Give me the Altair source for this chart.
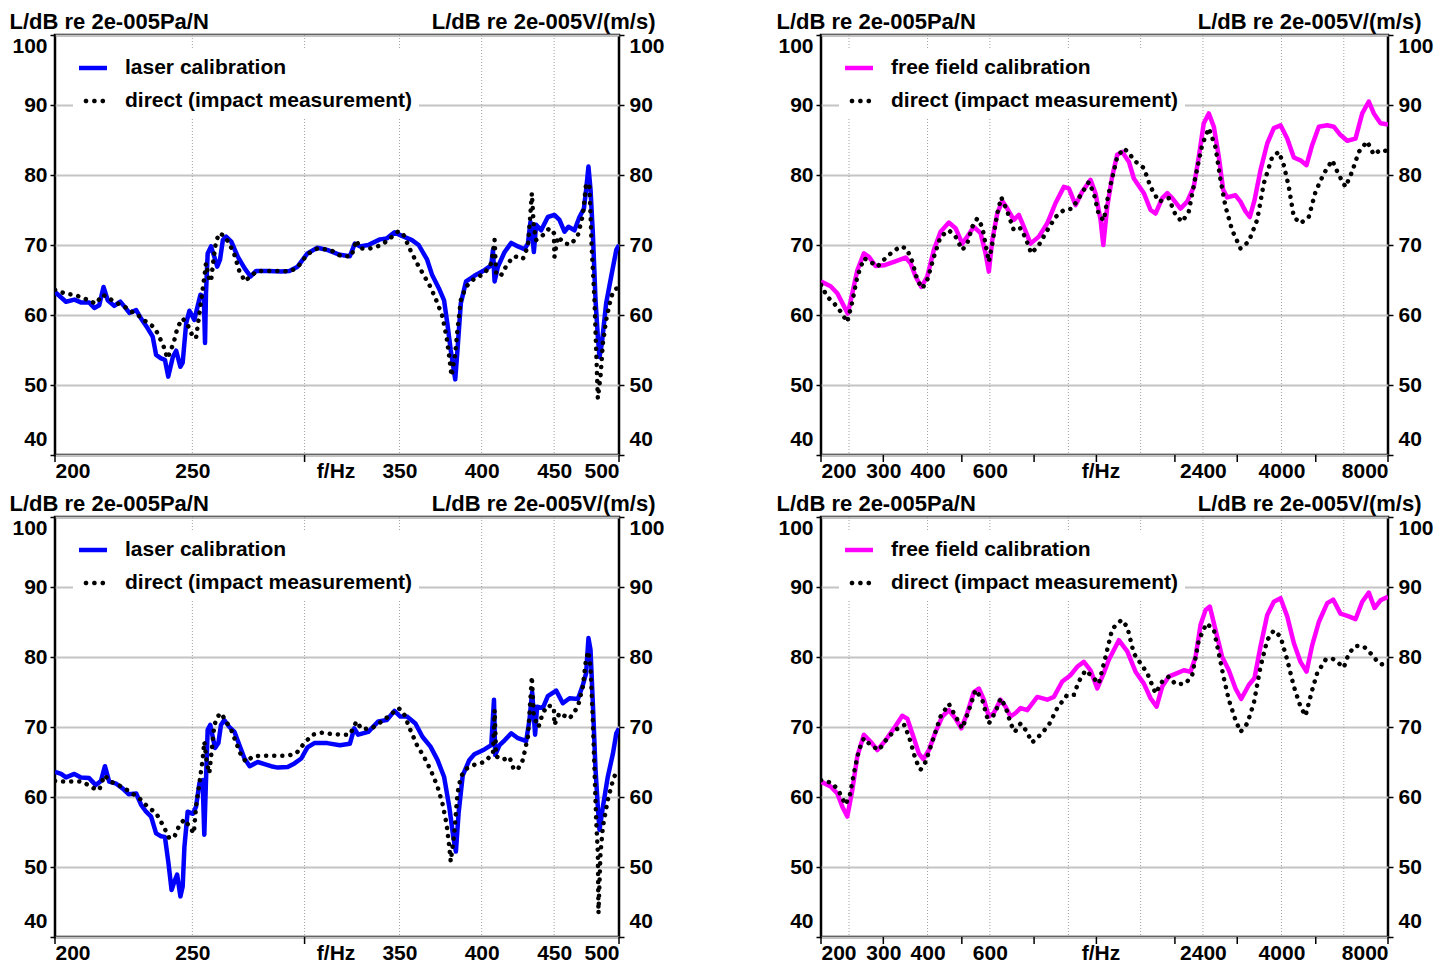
import altair as alt
import pandas as pd

FONT = "Liberation Sans"

# ---------------- data ----------------
# Panel 1 (top-left): laser calibration vs direct
p1_laser_f = [200, 203.6, 206.4, 208.6, 211.4, 213.2, 214.9, 216.4, 217.9, 220.2, 222.4, 223.9, 225.7, 228.2, 230.0,
              232.5, 234.4, 235.7, 237.6, 239.1, 240.4, 242.2, 243.5, 245.2, 246.1, 247.5, 248.8, 250.8, 252.2, 253.3,
              254.7, 255.2, 255.6, 256.3, 257.7, 259.1, 260.3, 261.5, 262.7, 264.1, 266.3, 269.2, 272.1, 274.8, 277.3,
              282.7, 288.8, 292.7, 296.6, 301.4, 306.3, 311.2, 317.7, 322.9, 325.5, 328.2, 332.7, 339.1, 342.9, 347.2,
              351.4, 357.2, 361.1, 366.1, 369.1, 373.2, 376.3, 378.3, 380.4, 383.2, 384.6, 386.7, 390.0, 395.3, 401.8,
              406.3, 407.4, 408.5, 410.7, 415.2, 419.7, 424.3, 428.8, 431.2, 433.0, 434.2, 435.4, 437.0, 440.6, 445.4,
              450.2, 453.9, 457.6, 460.6, 465.1, 468.9, 472.3, 474.0, 475.8, 477.4, 479.2, 481.3, 483.1, 484.4, 486.3,
              489.7, 493.7, 497.8, 500]
p1_laser_db = [63.3, 61.9, 62.2, 61.8, 61.8, 61.0, 61.4, 64.0, 62.1, 61.3, 61.9, 61.2, 60.3, 60.7, 59.5, 58.1, 56.9,
               54.3, 53.8, 53.6, 51.2, 54.0, 54.9, 52.6, 53.2, 58.8, 60.6, 59.3, 61.3, 62.9, 62.6, 56.0, 63.1, 68.8,
               69.8, 68.3, 66.9, 67.9, 70.7, 71.2, 70.5, 68.3, 66.7, 65.5, 66.3, 66.3, 66.2, 66.3, 66.9, 68.8, 69.6,
               69.3, 68.6, 68.4, 70.2, 69.8, 70.0, 70.8, 70.95, 71.8, 71.3, 70.7, 70.0, 67.9, 65.7, 63.8, 62.1, 58.8,
               55.0, 50.8, 55.0, 61.7, 64.8, 65.6, 66.4, 67.1, 69.3, 64.8, 66.9, 69.0, 70.3, 69.8, 69.4, 70.2, 73.3,
               71.7, 69.0, 72.9, 72.1, 74.0, 74.3, 73.6, 71.9, 72.6, 72.1, 74.0, 75.2, 77.9, 81.2, 77.9, 71.7, 62.1,
               56.9, 54.0, 56.0, 61.7, 65.5, 69.3, 70.0]
p1_direct_f = [200, 200.9, 203.6, 206.4, 208.8, 211.4, 213.7, 216.1, 217.9, 220.2, 223.9, 226.4, 228.8, 231.3, 234.4,
               236.3, 238.6, 240.1, 242.5, 244.1, 246.1, 248.1, 250.2, 251.5, 252.9, 254.2, 255.2, 255.6, 257.0, 257.7,
               258.8, 259.8, 261.2, 263.3, 265.5, 267.7, 269.9, 272.4, 274.8, 278.0, 282.7, 288.8, 292.7, 296.6, 301.4,
               306.3, 312.8, 318.4, 323.7, 326.4, 328.2, 333.6, 340.1, 344.7, 349.5, 352.4, 356.2, 360.1, 364.1, 368.1,
               372.3, 375.3, 377.8, 379.5, 380.9, 383.2, 384.6, 386.7, 389.8, 395.3, 401.8, 406.3, 408.5, 409.6, 412.9,
               417.4, 421.9, 427.7, 431.2, 432.8, 434.0, 435.4, 437.0, 441.8, 446.6, 449.8, 450.2, 452.7, 457.6, 462.6,
               467.7, 471.5, 474.0, 476.6, 478.4, 480.5, 481.8, 483.1, 485.2, 487.1, 489.7, 493.7, 496.4, 500]
p1_direct_db = [63.6, 63.5, 63.0, 62.9, 62.5, 62.1, 61.6, 62.9, 62.5, 61.9, 61.2, 60.5, 60.0, 59.2, 58.4, 57.4, 55.5,
                53.8, 56.0, 58.3, 59.5, 58.6, 56.9, 56.7, 60.2, 63.6, 66.2, 67.4, 65.0, 64.8, 68.1, 70.5, 71.7, 71.3,
                70.2, 68.6, 66.2, 64.8, 65.6, 66.3, 66.3, 66.3, 66.2, 66.8, 68.7, 69.5, 69.3, 68.4, 68.4, 70.7, 69.5,
                69.5, 70.0, 70.95, 72.0, 71.4, 69.3, 67.4, 65.7, 64.0, 61.7, 59.8, 56.9, 54.0, 51.3, 54.5, 57.9, 62.1,
                64.0, 65.2, 65.9, 67.4, 70.7, 65.7, 65.7, 67.4, 68.4, 68.0, 69.8, 74.0, 77.4, 72.6, 70.7, 71.4, 72.4,
                71.7, 68.3, 71.2, 70.2, 70.1, 71.4, 74.3, 78.8, 78.3, 69.3, 62.1, 55.0, 48.1, 51.2, 56.0, 59.3, 62.6,
                63.6, 64.0]

# Panel 2 (top-right): free field calibration vs direct
p2_free_f = [200, 212.9, 222.4, 229.8, 238.2, 245.2, 253.3, 264.4, 273.2, 285.3, 301.2, 321.4, 346.8, 358.2, 370.1,
             384.1, 399.3, 416.8, 435.4, 459.5, 480.0, 501.4, 518.0, 540.7, 564.8, 583.5, 596.1, 609.5, 629.6, 650.4,
             671.9, 701.4, 724.6, 748.5, 781.9, 825.3, 871.7, 920.0, 971.1, 1003, 1048, 1094, 1155, 1193, 1233, 1255,
             1288, 1330, 1374, 1420, 1482, 1531, 1634, 1707, 1763, 1842, 1903, 1965, 2074, 2166, 2261, 2336, 2413,
             2493, 2576, 2661, 2738, 2810, 2966, 3064, 3166, 3256, 3357, 3490, 3646, 3806, 3976, 4153, 4335, 4528,
             4708, 4886, 5101, 5387, 5623, 5874, 6136, 6476, 6765, 7061, 7295, 7620, 8000]
p2_free_db = [64.8, 64.1, 63.1, 61.7, 60.2, 63.1, 66.4, 68.8, 68.3, 67.0, 67.1, 67.6, 68.2, 67.4, 65.5, 64.0, 65.5,
              69.3, 71.9, 73.2, 72.4, 70.2, 71.2, 72.6, 71.7, 68.8, 66.2, 70.7, 74.5, 76.3, 75.2, 73.6, 74.3, 72.6,
              70.2, 71.2, 73.1, 76.0, 78.3, 78.1, 75.7, 77.6, 79.3, 77.4, 73.6, 70.0, 75.5, 79.8, 82.9, 83.3, 81.9,
              79.5, 77.4, 75.0, 74.5, 76.7, 77.4, 76.7, 75.2, 76.2, 78.3, 82.6, 87.4, 88.8, 86.9, 82.6, 77.9, 76.8,
              77.1, 76.2, 74.8, 74.0, 76.4, 80.7, 84.5, 86.7, 87.1, 85.2, 82.5, 82.1, 81.4, 84.3, 86.9, 87.1, 86.9,
              85.7, 84.9, 85.2, 88.8, 90.5, 88.8, 87.4, 87.2]
p2_direct_f = [200, 208.4, 217.5, 227.2, 237.3, 245.2, 253.3, 264.4, 276.2, 288.5, 301.2, 318.1, 335.7, 349.1, 362.3,
               374.3, 386.6, 399.3, 416.8, 435.4, 459.5, 480.0, 501.4, 518.0, 535.1, 552.8, 571.1, 590.0, 596.1, 609.5,
               629.6, 646.2, 671.9, 701.4, 732.7, 756.9, 785.5, 825.3, 871.7, 920.0, 971.1, 1025, 1082, 1142, 1180,
               1219, 1259, 1288, 1316, 1374, 1434, 1482, 1531, 1634, 1707, 1802, 1922, 2008, 2097, 2189, 2287, 2388,
               2493, 2604, 2691, 2779, 2903, 3064, 3234, 3416, 3566, 3767, 3932, 4062, 4196, 4335, 4528, 4777, 4992,
               5269, 5565, 5809, 6068, 6337, 6615, 6984, 7295, 7620, 8000]
p2_direct_db = [64.3, 62.6, 61.7, 60.5, 59.0, 61.9, 65.5, 68.1, 67.6, 66.9, 67.9, 69.0, 69.8, 69.5, 67.6, 65.0, 63.8,
                65.0, 68.3, 71.2, 72.1, 71.2, 69.3, 70.2, 72.6, 73.8, 72.6, 68.8, 67.6, 70.2, 74.5, 76.8, 74.8, 72.1,
                72.4, 71.0, 68.8, 70.0, 72.1, 74.0, 75.0, 75.2, 77.1, 79.0, 77.4, 74.3, 73.5, 76.4, 78.6, 82.6, 83.8,
                83.2, 82.1, 81.0, 78.3, 76.2, 76.7, 74.3, 73.3, 74.8, 79.8, 84.3, 86.7, 84.0, 79.3, 75.5, 72.1, 69.5,
                70.5, 73.6, 78.8, 82.6, 83.3, 81.4, 78.3, 74.0, 73.1, 74.0, 77.6, 80.2, 82.1, 80.0, 78.3, 80.5, 83.3,
                84.8, 82.9, 83.6, 83.4]

# Panel 3 (bottom-left): laser calibration vs direct
p3_laser_f = [200, 202.0, 203.6, 206.4, 208.6, 211.4, 213.7, 215.5, 216.9, 218.4, 220.9, 223.3, 225.4, 228.2, 230.0,
              231.9, 233.8, 235.7, 237.6, 239.1, 240.5, 241.7, 242.8, 243.9, 245.2, 246.1, 246.8, 248.1, 250.2, 251.5,
              252.9, 254.2, 254.9, 255.6, 256.3, 257.4, 258.4, 259.4, 260.8, 261.9, 263.3, 265.5, 267.7, 269.9, 272.1,
              274.4, 278.0, 281.1, 284.1, 287.2, 291.9, 295.1, 298.4, 301.4, 304.8, 311.2, 317.7, 322.9, 325.2, 327.3,
              332.7, 338.2, 342.9, 347.2, 350.4, 354.3, 359.2, 363.3, 368.1, 372.3, 376.3, 379.5, 382.0, 383.6, 385.3,
              387.9, 392.1, 395.3, 401.8, 406.3, 408.1, 408.9, 411.8, 415.2, 419.7, 424.3, 430.0, 432.3, 434.2, 436.3,
              437.7, 441.8, 445.4, 451.5, 456.4, 461.4, 467.7, 471.5, 474.0, 475.8, 477.4, 479.2, 481.3, 483.1, 484.4,
              487.1, 491.0, 495.1, 497.8, 500]
p3_laser_db = [63.6, 63.3, 62.8, 63.3, 62.8, 62.7, 61.7, 62.3, 64.4, 62.2, 61.9, 61.2, 60.4, 60.5, 58.9, 57.9, 57.2,
               54.8, 54.4, 54.3, 50.5, 46.7, 47.9, 48.9, 45.8, 47.2, 52.9, 57.9, 57.6, 58.6, 62.0, 62.4, 54.6, 62.4,
               69.6, 70.3, 68.6, 67.0, 67.7, 70.3, 71.0, 70.0, 69.3, 67.4, 65.5, 64.4, 65.0, 64.7, 64.4, 64.2, 64.3,
               64.8, 65.5, 67.1, 67.7, 67.7, 67.4, 67.6, 69.8, 68.9, 69.3, 70.8, 71.0, 72.3, 71.5, 71.5, 70.5, 68.6,
               67.2, 65.3, 62.9, 58.6, 54.3, 52.2, 57.7, 63.1, 65.3, 66.1, 66.8, 67.4, 73.9, 66.0, 67.4, 68.1, 69.1,
               68.4, 68.0, 71.0, 75.0, 68.9, 72.9, 72.7, 74.4, 75.2, 73.4, 74.1, 74.0, 76.0, 77.7, 82.7, 81.0, 73.4,
               63.9, 58.6, 55.3, 58.6, 62.9, 66.2, 69.1, 69.8]
p3_direct_f = [200, 201.4, 204.2, 206.4, 209.1, 212.6, 214.9, 216.7, 219.0, 222.7, 225.7, 229.4, 232.5, 235.7, 238.6,
               240.8, 242.8, 244.8, 246.8, 248.8, 250.6, 251.5, 252.9, 254.2, 254.9, 256.0, 257.0, 258.0, 259.1, 260.5,
               261.9, 264.1, 266.3, 268.5, 270.8, 272.9, 275.8, 279.6, 283.3, 287.2, 291.9, 295.9, 299.9, 303.9, 308.9,
               313.2, 318.6, 322.9, 326.4, 329.1, 334.5, 340.1, 344.7, 349.5, 352.4, 356.2, 360.1, 364.1, 368.1, 372.3,
               375.3, 377.8, 379.5, 380.4, 382.6, 384.6, 386.7, 389.8, 395.3, 401.8, 407.4, 408.5, 409.6, 414.0, 418.5,
               421.5, 424.3, 427.7, 431.2, 432.8, 434.0, 435.4, 438.7, 441.8, 445.4, 449.8, 450.2, 453.9, 461.4, 467.7,
               471.5, 474.0, 475.8, 477.4, 479.2, 480.5, 481.8, 483.1, 483.6, 485.2, 487.1, 491.0, 495.1, 497.8]
p3_direct_db = [62.3, 62.2, 62.2, 62.2, 62.2, 61.3, 61.0, 63.1, 62.2, 61.5, 60.8, 59.8, 58.6, 57.7, 55.8, 54.1, 54.3,
                56.0, 56.8, 55.8, 54.8, 58.6, 62.0, 65.3, 67.9, 64.8, 63.4, 66.7, 70.3, 71.5, 72.0, 70.8, 69.6, 67.7,
                65.8, 65.0, 65.8, 65.9, 65.9, 65.9, 65.9, 66.2, 67.7, 68.9, 69.2, 69.0, 68.9, 68.9, 70.8, 69.7, 69.8,
                70.8, 71.7, 72.7, 72.0, 69.6, 67.4, 65.8, 63.9, 61.5, 59.1, 56.2, 52.9, 50.8, 54.8, 60.5, 62.9, 64.0,
                64.6, 65.0, 66.2, 72.4, 65.8, 65.3, 65.7, 63.9, 64.0, 65.3, 68.6, 73.4, 77.2, 71.5, 70.0, 72.0, 73.1,
                72.8, 70.3, 72.0, 71.2, 72.9, 75.8, 79.8, 80.8, 78.6, 71.0, 63.9, 56.7, 52.0, 43.4, 52.0, 55.8, 59.6,
                62.4, 63.6]

# Panel 4 (bottom-right): free field calibration vs direct
p4_free_f = [200, 212.9, 222.4, 229.8, 237.3, 245.2, 253.3, 264.4, 276.2, 288.5, 304.5, 321.4, 339.3, 350.7, 366.0,
             378.2, 389.1, 403.5, 421.5, 440.2, 459.5, 480.0, 498.2, 518.0, 540.7, 558.6, 577.1, 596.1, 615.7, 643.3,
             664.5, 686.5, 709.2, 732.7, 765.3, 816.7, 871.7, 909.9, 961.0, 1014, 1059, 1106, 1155, 1207, 1259, 1301,
             1389, 1467, 1548, 1634, 1707, 1775, 1842, 1922, 2030, 2119, 2214, 2287, 2363, 2441, 2510, 2604, 2720,
             2840, 2966, 3078, 3234, 3357, 3490, 3646, 3806, 3976, 4153, 4335, 4528, 4708, 4886, 5101, 5387, 5601,
             5874, 6198, 6476, 6765, 7061, 7329, 7620, 8000]
p4_free_db = [62.2, 61.5, 60.5, 58.6, 57.2, 61.0, 65.8, 68.9, 67.9, 66.7, 68.1, 69.8, 71.6, 71.2, 68.4, 66.2, 65.4,
              66.7, 69.3, 71.5, 72.4, 71.2, 69.8, 72.0, 75.0, 75.5, 73.9, 71.5, 72.0, 73.9, 72.9, 71.5, 72.0, 72.7,
              72.4, 74.3, 73.9, 74.3, 76.5, 77.4, 78.6, 79.3, 78.1, 75.5, 77.7, 79.6, 82.4, 80.8, 77.9, 76.2, 74.1,
              72.9, 75.8, 77.2, 77.7, 78.1, 77.9, 80.0, 84.6, 86.7, 87.2, 83.9, 80.0, 78.1, 75.5, 74.0, 76.0, 77.0,
              81.5, 86.0, 87.9, 88.4, 85.8, 82.0, 79.3, 77.9, 81.7, 85.0, 87.7, 88.2, 86.2, 85.8, 85.4, 87.9, 89.2,
              87.0, 88.1, 88.6]
p4_direct_f = [200, 215.3, 224.7, 234.7, 241.4, 247.7, 255.9, 264.4, 276.2, 291.5, 307.8, 325.0, 344.5, 358.2, 370.1,
               382.3, 394.9, 412.5, 435.4, 459.5, 480.0, 501.4, 523.4, 546.7, 571.1, 596.1, 622.7, 643.3, 664.5, 686.5,
               706.0, 732.7, 756.9, 790.6, 834.5, 880.8, 930.2, 992.6, 1036, 1070, 1118, 1168, 1219, 1273, 1330, 1413,
               1467, 1531, 1599, 1670, 1763, 1842, 1922, 2008, 2143, 2238, 2336, 2457, 2576, 2661, 2749, 2840, 2966,
               3064, 3201, 3342, 3490, 3646, 3806, 3976, 4153, 4335, 4528, 4678, 4886, 5046, 5328, 5565, 5809, 5999,
               6198, 6476, 6835, 7216, 7536, 8000]
p4_direct_db = [62.4, 62.0, 60.8, 58.9, 60.3, 63.4, 66.7, 68.4, 67.4, 66.7, 68.4, 69.6, 70.3, 67.9, 65.3, 63.9, 65.0,
                67.9, 71.5, 73.3, 71.5, 69.8, 72.4, 75.3, 73.9, 70.5, 72.2, 74.1, 72.9, 70.5, 69.3, 70.5, 69.6, 67.8,
                68.9, 70.3, 72.7, 74.6, 74.6, 76.5, 78.1, 77.2, 76.2, 80.0, 84.0, 85.3, 84.3, 80.5, 79.1, 77.7, 74.8,
                76.5, 77.2, 76.1, 76.2, 77.4, 82.4, 84.8, 83.9, 80.5, 77.0, 73.9, 71.0, 69.3, 70.5, 73.4, 78.6, 82.4,
                83.8, 82.9, 79.6, 75.8, 72.9, 71.6, 75.3, 77.7, 79.6, 79.8, 79.1, 78.5, 80.5, 81.6, 81.5, 80.3, 79.1,
                78.7]

# axes: label positions, tick positions, dotted grid positions
y_ticks = [40, 50, 60, 70, 80, 90, 100]
lin_labels = [200, 250, 300, 350, 400, 450, 500]
lin_ticks = [200, 300, 500]
lin_grid = [250, 300, 350, 400, 450]
log_labels = [200, 300, 400, 600, 1200, 2400, 4000, 8000]
log_ticks = [200, 300, 500, 800, 1200, 2000, 3000, 5000, 8000]
log_grid = [240, 400, 600, 1000, 1600, 2400, 4000, 6000]

title_left = "L/dB re 2e-005Pa/N"
title_right = "L/dB re 2e-005V/(m/s)"
name_direct = "direct (impact measurement)"

# ---------------- styling helpers ----------------
H = 420
TITLE_Y = -14
LEG_BAR = "M-1,-0.16L1,-0.16L1,0.16L-1,0.16Z"


def dot_path(cx, r=0.17, n=10):
    import math
    pts = []
    for i in range(n):
        a = 2 * math.pi * i / n
        pts.append(f"{cx + r * math.cos(a):.3f},{r * math.sin(a):.3f}")
    return "M" + "L".join(pts) + "Z"


LEG_DOTS = dot_path(-0.5) + dot_path(0.1) + dot_path(0.7)


def make_df(f, db):
    assert len(f) == len(db), (len(f), len(db))
    return pd.DataFrame({"f": f, "db": db})


def panel(f_a, db_a, f_b, db_b, name_a, color_a, xdom, lab_vals, fhz_val, fhz_off,
          tick_vals, grid_vals, w, tl_x, tr_x):
    a = make_df(f_a, db_a)
    b = make_df(f_b, db_b)
    names = [name_a, name_direct]
    xscale = alt.Scale(type="log", domain=xdom, nice=False)
    xaxis = alt.Axis(values=lab_vals, format="d",
                     labelExpr=f"datum.value == {fhz_val} ? 'f/Hz' : datum.label",
                     ticks=False, grid=False, domain=False, labelFlush=True,
                     labelOverlap=False, labelPadding=5,
                     labelOffset={"condition": {"test": f"datum.value == {fhz_val}", "value": fhz_off},
                                  "value": 0},
                     title=None)
    x = alt.X("f:Q", scale=xscale, axis=xaxis)
    yscale = alt.Scale(domain=[40, 100], nice=False, zero=False)
    y_lab_off = {"condition": {"test": "datum.value == 40", "value": -6}, "value": 0}
    yl = alt.Y("db:Q", scale=yscale,
               axis=alt.Axis(orient="left", values=y_ticks, grid=True, gridColor="#c4c4c4",
                             gridWidth=2, domain=False, tickSize=5, tickColor="black",
                             tickWidth=1.5, labelFlush=True, labelPadding=3, labelOverlap=False,
                             labelOffset=y_lab_off,
                             title=title_left, titleAngle=0, titleAlign="left",
                             titleBaseline="middle", titleX=tl_x, titleY=TITLE_Y))
    yr = alt.Y("db:Q", scale=yscale,
               axis=alt.Axis(orient="right", values=y_ticks, grid=False, domain=False,
                             tickSize=5, tickColor="black", tickWidth=1.5, labelFlush=True,
                             labelPadding=5, labelOverlap=False, labelOffset=y_lab_off,
                             title=title_right, titleAngle=0, titleAlign="right",
                             titleBaseline="middle", titleX=tr_x, titleY=TITLE_Y))
    grid = alt.Chart(pd.DataFrame({"f": grid_vals})).mark_rule(
        color="#a0a0a0", strokeWidth=1, strokeDash=[1, 2]).encode(x=x)
    line_a = alt.Chart(a).mark_line(color=color_a, strokeWidth=4.5, strokeJoin="round",
                                    clip=True).encode(x=x, y=yl)
    line_b = alt.Chart(b).mark_line(color="black", strokeWidth=4.5, strokeDash=[0.1, 8],
                                    strokeCap="round", clip=True).encode(x=x, y=yr)
    ticks = alt.Chart(pd.DataFrame({"f": tick_vals})).mark_rule(
        color="black", strokeWidth=1.5).encode(x=x, y=alt.value(H), y2=alt.value(H + 7))
    legend = alt.Legend(title=None, orient="none", legendX=18, legendY=13, direction="vertical",
                        padding=6, fillColor="white", symbolSize=784, symbolStrokeWidth=0,
                        labelOffset=18, rowPadding=9, labelLimit=600,
                        labelFont=FONT, labelFontSize=21, labelFontWeight="bold",
                        labelColor="black")
    leg = alt.Chart(pd.DataFrame({"s": names})).transform_filter("false").mark_point(
        filled=True, size=784, opacity=1).encode(
        color=alt.Color("s:N", scale=alt.Scale(domain=names, range=[color_a, "black"]), legend=legend),
        shape=alt.Shape("s:N", scale=alt.Scale(domain=names, range=[LEG_BAR, LEG_DOTS]), legend=legend),
    )
    return alt.layer(grid, line_a, line_b, ticks, leg).resolve_scale(
        y="independent").properties(width=w, height=H)


p1 = panel(p1_laser_f, p1_laser_db, p1_direct_f, p1_direct_db, "laser calibration", "#0000ff",
           [200, 500], lin_labels, 300, 31, lin_ticks, lin_grid, 564, -46, 36)
p2 = panel(p2_free_f, p2_free_db, p2_direct_f, p2_direct_db, "free field calibration", "#ff00ff",
           [200, 8000], log_labels, 1200, 4, log_ticks, log_grid, 567, -45, 33)
p3 = panel(p3_laser_f, p3_laser_db, p3_direct_f, p3_direct_db, "laser calibration", "#0000ff",
           [200, 500], lin_labels, 300, 31, lin_ticks, lin_grid, 564, -46, 36)
p4 = panel(p4_free_f, p4_free_db, p4_direct_f, p4_direct_db, "free field calibration", "#ff00ff",
           [200, 8000], log_labels, 1200, 4, log_ticks, log_grid, 567, -45, 33)

chart = alt.concat(p1, p2, p3, p4, columns=2, spacing={"row": 62, "column": 202},
                   bounds="flush").resolve_scale(
    color="independent", shape="independent"
).properties(
    padding={"top": 0, "left": -1, "right": 0, "bottom": 0}, background="white"
).configure_view(
    stroke="black", strokeWidth=2.5
).configure_axis(
    labelFont=FONT, labelFontSize=21, labelFontWeight="bold", labelColor="black",
    titleFont=FONT, titleFontSize=22, titleFontWeight="bold", titleColor="black"
)

chart.save("out.html", embed_options={"renderer": "svg", "actions": False})
